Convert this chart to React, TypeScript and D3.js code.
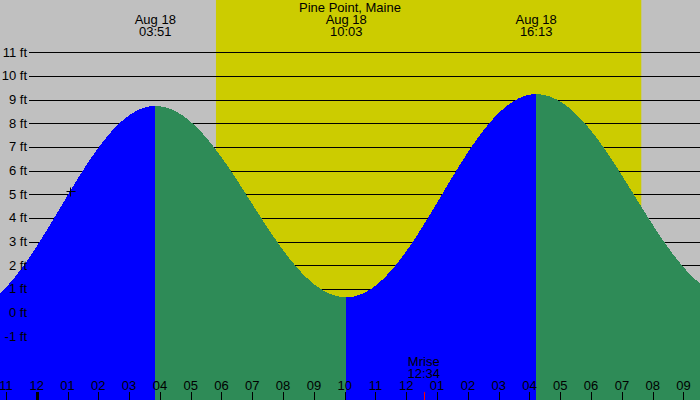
import React, { useEffect, useRef } from "react";
import * as d3 from "d3";

// Tide extremes (hours from midnight Aug 18; negative = Aug 17)
const tideHours = [-2.33, 3.85, 10.05, 16.217, 22.6];
const tideHeights = [0.12, 8.73, 0.65, 9.23, 0.66];
const tideLabelTimes = ["", "03:51", "10:03", "16:13", ""];
const tideLabelDates = ["", "Aug 18", "Aug 18", "Aug 18", ""];

const title = "Pine Point, Maine";
const sunriseHour = 5.82;
const sunsetHour = 19.63;
const moonriseHour = 12.567;
const moonriseLabel = ["Mrise", "12:34"];
const markerHour = 1.08;

const yTicks = [-1, 0, 1, 2, 3, 4, 5, 6, 7, 8, 9, 10, 11];
const xTickHours = d3.range(-1, 22);

const W = 700;
const H = 400;
const FONT = "'Liberation Sans', Arial, sans-serif";

function tideAt(t: number): number {
  for (let i = 0; i < tideHours.length - 1; i++) {
    const t0 = tideHours[i], t1 = tideHours[i + 1];
    if (t >= t0 && t <= t1) {
      const f = (t - t0) / (t1 - t0);
      const h0 = tideHeights[i], h1 = tideHeights[i + 1];
      return h0 + (h1 - h0) * (1 - Math.cos(Math.PI * f)) / 2;
    }
  }
  return tideHeights[0];
}

export default function App() {
  const ref = useRef<SVGSVGElement>(null);

  useEffect(() => {
    document.body.style.margin = "0";
    const svg = d3.select(ref.current);
    svg.selectAll("*").remove();

    const x = d3.scaleLinear().domain([-1.1916, 21.536]).range([0, W]);
    const y = d3.scaleLinear().domain([11, -1]).range([52.3, 336.3]);

    // background
    svg.append("rect").attr("width", W).attr("height", H).attr("fill", "#c0c0c0");
    svg.append("rect")
      .attr("x", x(sunriseHour)).attr("y", 0)
      .attr("width", x(sunsetHour) - x(sunriseHour)).attr("height", H)
      .attr("fill", "#cccc00");

    // grid lines
    svg.append("g").selectAll("line").data(yTicks).join("line")
      .attr("x1", 29).attr("x2", W)
      .attr("y1", (d) => Math.round(y(d)) + 0.5)
      .attr("y2", (d) => Math.round(y(d)) + 0.5)
      .attr("stroke", "#000").attr("stroke-width", 1);

    // tide areas
    const area = d3.area<number>()
      .x((t) => x(t))
      .y0(H)
      .y1((t) => y(tideAt(t)));
    for (let i = 0; i < tideHours.length - 1; i++) {
      const t0 = tideHours[i], t1 = tideHours[i + 1];
      const ts = d3.range(t0, t1, 0.02).concat([t1]);
      const rising = tideHeights[i + 1] > tideHeights[i];
      svg.append("path")
        .attr("d", area(ts))
        .attr("fill", rising ? "#0000ff" : "#2e8b57")
        .attr("shape-rendering", "crispEdges");
    }

    // y labels
    svg.append("g").selectAll("text").data(yTicks).join("text")
      .attr("x", 27).attr("y", (d) => y(d) + 4.5)
      .attr("text-anchor", "end")
      .attr("font-family", FONT).attr("font-size", 13).attr("fill", "#000")
      .text((d) => `${d} ft`);

    // x ticks
    const xt = svg.append("g");
    xTickHours.forEach((h) => {
      const hh = ((h % 24) + 24) % 24;
      const label = String(hh % 12 === 0 ? 12 : hh % 12).padStart(2, "0");
      const px = Math.round(x(h));
      xt.append("line")
        .attr("x1", px + 0.5).attr("x2", px + 0.5)
        .attr("y1", 392).attr("y2", H)
        .attr("stroke", "#000")
        .attr("stroke-width", hh === 0 ? 3 : 1);
      xt.append("text")
        .attr("x", x(h)).attr("y", 390)
        .attr("text-anchor", "middle")
        .attr("font-family", FONT).attr("font-size", 13).attr("fill", "#000")
        .text(label);
    });

    // moonrise
    const mx = Math.round(x(moonriseHour)) + 0.5;
    svg.append("line")
      .attr("x1", mx).attr("x2", mx).attr("y1", 392).attr("y2", H)
      .attr("stroke", "#ff0000").attr("stroke-width", 1);
    moonriseLabel.forEach((s, i) => {
      svg.append("text")
        .attr("x", x(moonriseHour)).attr("y", 366 + i * 12)
        .attr("text-anchor", "middle")
        .attr("font-family", FONT).attr("font-size", 13).attr("fill", "#000")
        .text(s);
    });

    // extreme labels
    tideHours.forEach((t, i) => {
      if (!tideLabelTimes[i]) return;
      svg.append("text")
        .attr("x", x(t)).attr("y", 24)
        .attr("text-anchor", "middle")
        .attr("font-family", FONT).attr("font-size", 13).attr("fill", "#000")
        .text(tideLabelDates[i]);
      svg.append("text")
        .attr("x", x(t)).attr("y", 36)
        .attr("text-anchor", "middle")
        .attr("font-family", FONT).attr("font-size", 13).attr("fill", "#000")
        .text(tideLabelTimes[i]);
    });

    // title
    svg.append("text")
      .attr("x", W / 2).attr("y", 12)
      .attr("text-anchor", "middle")
      .attr("font-family", FONT).attr("font-size", 13).attr("fill", "#000")
      .text(title);

    // marker
    const cx = Math.round(x(markerHour)) + 0.5;
    const cy = Math.round(y(tideAt(markerHour))) + 0.5;
    svg.append("path")
      .attr("d", `M${cx - 4},${cy}H${cx + 5}M${cx},${cy - 4}V${cy + 5}`)
      .attr("stroke", "#000").attr("stroke-width", 1).attr("fill", "none");
  }, []);

  return (
    <svg
      ref={ref}
      width={W}
      height={H}
      style={{ position: "absolute", left: 0, top: 0, display: "block" }}
    />
  );
}
